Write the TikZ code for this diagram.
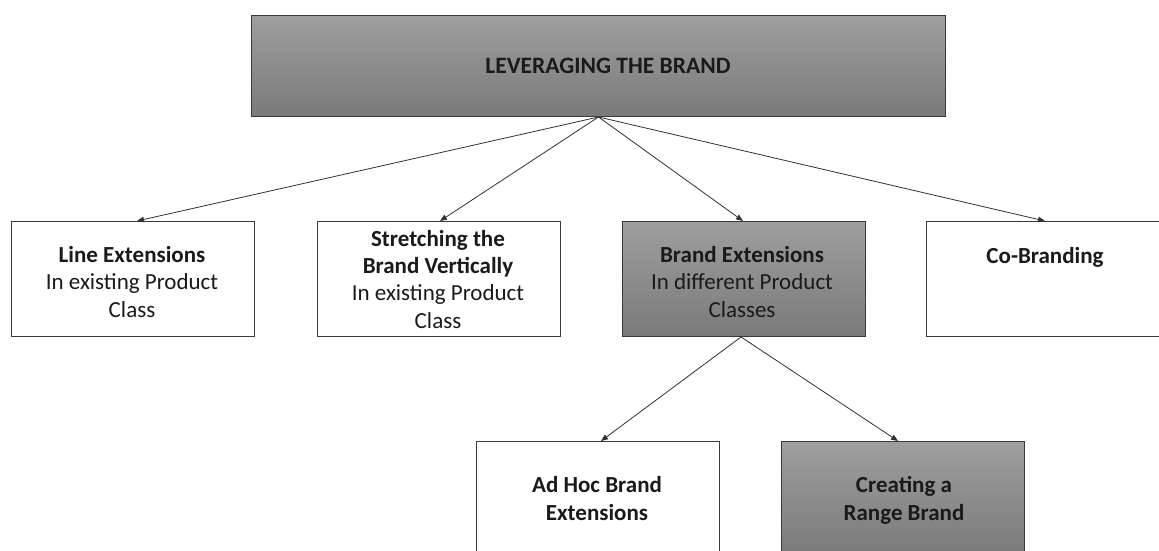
\documentclass[tikz,border=0pt]{standalone}
\usepackage{fontspec}
\setmainfont{Carlito}
\usetikzlibrary{arrows.meta}
\definecolor{shadetop}{HTML}{9E9E9E}
\definecolor{shadebot}{HTML}{7A7A7A}
\definecolor{frame}{HTML}{3A3A3A}
\definecolor{ink}{HTML}{1A1A1A}
\tikzset{
  box/.style={draw=frame, line width=1pt, fill=white, minimum width=243pt,
    minimum height=115pt, inner sep=0pt, anchor=north west},
  shadedbox/.style={box, top color=shadetop, bottom color=shadebot, draw=frame},
  % base anchor of a multi-line label sits on its last line
  lbl/.style={align=center, inner sep=0pt, anchor=base, text=ink,
    font=\fontsize{23}{27.2}\selectfont},
  link/.style={draw=ink!90, line width=0.8pt, -{Triangle[length=7pt,width=5.5pt]}},
}
\begin{document}
\begin{tikzpicture}[x=1pt, y=-1pt]
  \useasboundingbox (0,0) rectangle (1159,551);

  % top: the brand being leveraged
  \node[shadedbox, minimum width=694pt, minimum height=101pt] (root) at (251,15) {};
  \node[lbl, font=\bfseries\fontsize{23.5}{28}\selectfont] (rootlbl) at (608,74) {LEVERAGING THE BRAND};

  % second level
  \node[box] (line) at (11,221) {};
  \node[lbl] (linelbl) at (132,317)
    {\textbf{Line Extensions}\\In existing Product\\Class};

  \node[box] (stretch) at (317,221) {};
  \node[lbl] (stretchlbl) at (438,328)
    {\textbf{Stretching the}\\\textbf{Brand Vertically}\\In existing Product\\Class};

  \node[shadedbox] (ext) at (622,221) {};
  \node[lbl] (extlbl) at (742,317)
    {\textbf{Brand Extensions}\\In different Product\\Classes};

  \node[box] (cobrand) at (926,221) {};
  \node[lbl] (cobrandlbl) at (1045,263) {\textbf{Co-Branding}};

  % third level, below brand extensions
  \node[box] (adhoc) at (476,441) {};
  \node[lbl] (adhoclbl) at (597,520)
    {\textbf{Ad Hoc Brand}\\\textbf{Extensions}};

  \node[shadedbox] (range) at (781,441) {};
  \node[lbl] (rangelbl) at (904,520)
    {\textbf{Creating a}\\\textbf{Range Brand}};

  % connectors
  \draw[link] (root.south) -- ([xshift=4pt]line.north);
  \draw[link] (root.south) -- ([xshift=1pt]stretch.north);
  \draw[link] (root.south) -- ([xshift=-1pt]ext.north);
  \draw[link] (root.south) -- ([xshift=-3pt]cobrand.north);
  \draw[link] ([xshift=-3pt]ext.south) -- ([xshift=3pt]adhoc.north);
  \draw[link] ([xshift=-3pt]ext.south) -- ([xshift=-5pt]range.north);
\end{tikzpicture}
\end{document}
